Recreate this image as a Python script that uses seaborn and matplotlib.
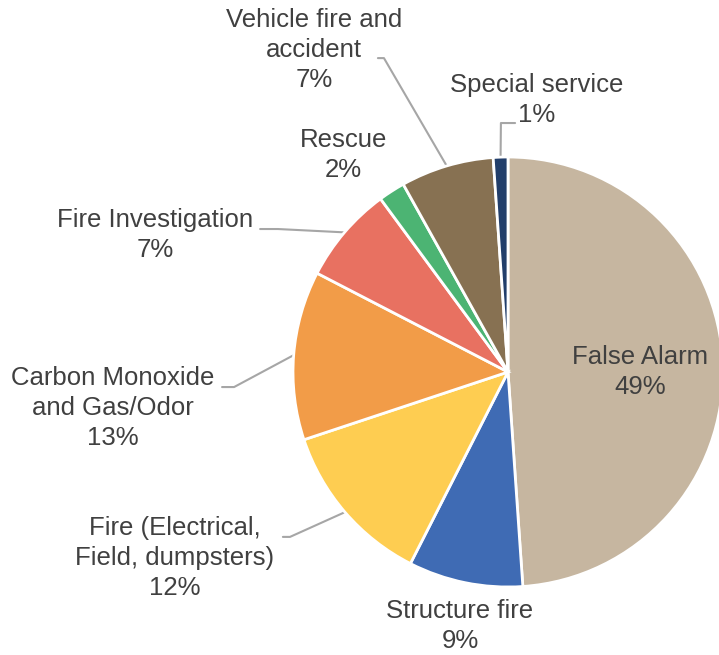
import numpy as np
import matplotlib.pyplot as plt
import seaborn as sns

# Incident categories (clockwise from 12 o'clock)
categories = ["False Alarm", "Structure fire", "Fire (Electrical,\nField, dumpsters)",
              "Carbon Monoxide\nand Gas/Odor", "Fire Investigation", "Rescue",
              "Vehicle fire and\naccident", "Special service"]
shares = [48.9, 8.6, 12.4, 12.7, 7.3, 2.0, 7.0, 1.1]
colors = ["#C6B6A0", "#3F6BB4", "#FECD51", "#F29C48", "#E87161", "#4CB473",
          "#877152", "#223E6A"]

# label centres (data units, pie radius = 1) and leader elbow points
label_pos = [(0.614, 0.0), (-0.223, -1.181), (-1.549, -0.865), (-1.837, -0.167),
             (-1.642, 0.637), (-0.767, 1.009), (-0.902, 1.498), (0.135, 1.265)]
leaders = {2: [(-1.047, -0.767), (-1.014, -0.767)],
           3: [(-1.330, -0.070), (-1.274, -0.070)],
           4: [(-1.153, 0.665), (-1.070, 0.665)],
           6: [(-0.605, 1.460), (-0.577, 1.460)],
           7: [(0.033, 1.158), (-0.033, 1.158)]}

sns.set_theme(style="white")
plt.rcParams['font.family'] = ['Liberation Sans', 'DejaVu Sans']
palette = sns.color_palette(colors)

fig = plt.figure(figsize=(7.19, 6.55), dpi=100)
ax = fig.add_axes([0, 0, 1, 1])
wedges, _ = ax.pie(shares, colors=palette, startangle=90, counterclock=False,
                   radius=1, wedgeprops=dict(edgecolor="white", linewidth=2))

txt_color = "#404040"
for i, w in enumerate(wedges):
    pct = f"{shares[i]:.0f}%"
    x, y = label_pos[i]
    ax.text(x, y, f"{categories[i]}\n{pct}", ha="center", va="center",
            fontsize=18.5, color=txt_color, linespacing=1.3)
    if i in leaders:
        mid = np.deg2rad((w.theta1 + w.theta2) / 2)
        pts = leaders[i] + [(np.cos(mid), np.sin(mid))]
        xs, ys = zip(*pts)
        ax.plot(xs, ys, color="#A6A6A6", lw=1.5, zorder=0)

ax.set_xlim(-508 / 215, (719 - 508) / 215)
ax.set_ylim((372 - 655) / 215, 372 / 215)
ax.set_aspect("equal")
ax.axis("off")

fig.savefig("out.png", dpi=100)
